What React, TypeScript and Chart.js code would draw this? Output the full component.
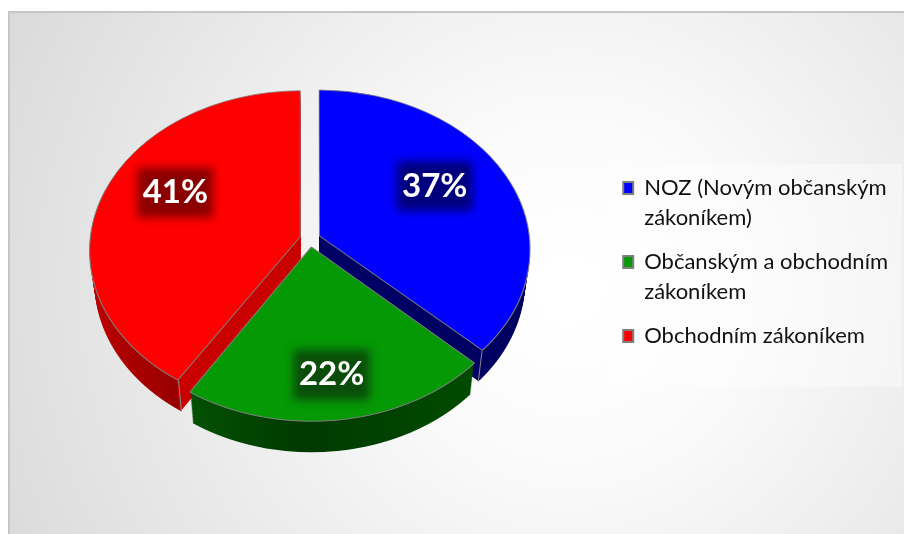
import React, { useEffect, useRef } from "react";
import { Chart, registerables } from "chart.js";

Chart.register(...registerables);

const categories = [
  ["NOZ (Novým občanským", "zákoníkem)"],
  ["Občanským a obchodním", "zákoníkem"],
  ["Obchodním zákoníkem"],
];
const shares = [37, 22, 41];
const topColors = ["#0000ff", "#059905", "#ff0000"];
const glowColors = ["#00007c", "#0a4d0a", "#8a0000"];

const W = 904;
const H = 534;
const CX = 310;
const CY = 239;
const AX = 210; // horizontal half-size of the projected disc
const AY = 158.5; // vertical half-size before the perspective term
const P = 0.083; // perspective strength
const DEPTH = 31;
const INSET = 0.022;
const labelNudge = [
  [-7, -10],
  [2, 19],
  [4, -16],
];

function ghostOf(arc: any, patch: any) {
  const g = Object.create(arc);
  g.options = { ...arc.options, ...patch };
  return g;
}

function offsetOf(arc: any) {
  return (arc.options.offset || 0) / 4;
}

// Chart.js widens an exploded arc by offset * (1 - sin(circumference)).
function radiusOf(arc: any) {
  const fix = 1 - Math.sin(Math.min(Math.PI, arc.circumference || 0));
  return arc.outerRadius + offsetOf(arc) * fix;
}

// Draws the library's arc through a perspective projection, one thin row at a time.
function drawFace(ctx: any, arc: any, k: number, patch: any, rowH: number) {
  const R = radiusOf(arc);
  const inset = 1 - (INSET * k) / DEPTH;
  const g = ghostOf(arc, patch);
  const origin = CY + k;
  for (let row = 80 + k; row < 440 + k; row += rowH) {
    const yo = row + rowH / 2 - origin;
    const u = yo / (AY + P * yo);
    const den = 1 - P * u;
    ctx.save();
    ctx.beginPath();
    ctx.rect(0, row, W, rowH);
    ctx.clip();
    ctx.translate(CX, row + rowH / 2);
    ctx.scale((AX * inset) / (R * den), AY / (R * den * den));
    ctx.translate(-arc.x, -(arc.y + u * R));
    g.draw(ctx);
    ctx.restore();
  }
}

function project(arc: any, theta: number, frac: number, k: number) {
  const R = radiusOf(arc);
  const off = offsetOf(arc);
  const mid = (arc.startAngle + arc.endAngle) / 2;
  const vx = (Math.cos(mid) * off + Math.cos(theta) * R * frac) / R;
  const u = (Math.sin(mid) * off + Math.sin(theta) * R * frac) / R;
  const den = 1 - P * u;
  const inset = 1 - (INSET * k) / DEPTH;
  return { x: CX + (AX * inset * vx) / den, y: CY + k + (AY * u) / den };
}

function wallFill(ctx: any, arc: any, index: number) {
  const R = radiusOf(arc);
  const fx = (px: number) => arc.x + ((px - CX) * R) / AX;
  const stops: any[] =
    index === 2
      ? [
          [95, "#c20000"],
          [140, "#ac0000"],
          [195, "#980000"],
          [196, "#c80000"],
          [330, "#c80000"],
        ]
      : index === 1
        ? [
            [190, "#045204"],
            [300, "#003a00"],
            [475, "#004c00"],
          ]
        : [
            [300, "#000066"],
            [530, "#000060"],
          ];
  const a = stops[0][0];
  const b = stops[stops.length - 1][0];
  const g = ctx.createLinearGradient(fx(a), 0, fx(b), 0);
  stops.forEach((s) => g.addColorStop((s[0] - a) / (b - a), s[1]));
  return g;
}

const panelPlugin = {
  id: "panel",
  beforeDraw(chart: any) {
    const ctx = chart.ctx;
    ctx.save();
    ctx.fillStyle = "#ffffff";
    ctx.fillRect(0, 0, W, H);
    const g = ctx.createRadialGradient(570, 290, 30, 570, 290, 640);
    g.addColorStop(0, "#ffffff");
    g.addColorStop(0.25, "#fafafa");
    g.addColorStop(1, "#d9d9d9");
    ctx.fillStyle = g;
    ctx.fillRect(9, 12, W, H);
    ctx.strokeStyle = "#c6c6c6";
    ctx.lineWidth = 2;
    ctx.strokeRect(9, 12, W + 20, H + 20);
    ctx.fillStyle = "rgba(255,255,255,0.4)";
    ctx.fillRect(611, 164, 291, 223);
    ctx.restore();
  },
};

const pie3dPlugin = {
  id: "pie3d",
  beforeDatasetsDraw(chart: any) {
    const ctx = chart.ctx;
    const arcs = chart.getDatasetMeta(0).data;
    [2, 0, 1].forEach((i) => {
      const fill = wallFill(ctx, arcs[i], i);
      for (let k = DEPTH; k >= 1; k -= 2) {
        drawFace(ctx, arcs[i], k, { backgroundColor: fill, borderWidth: 0 }, 2);
      }
    });
    [
      [0, arcs[0].endAngle],
      [2, arcs[2].startAngle],
    ].forEach(([i, theta]) => {
      const a = project(arcs[i], theta, 1, 0);
      const b = project(arcs[i], theta, 1, DEPTH);
      ctx.save();
      ctx.strokeStyle = "#8a8a8a";
      ctx.lineWidth = 1;
      ctx.beginPath();
      ctx.moveTo(a.x, a.y);
      ctx.lineTo(b.x, b.y);
      ctx.stroke();
      ctx.restore();
    });
    arcs.forEach((arc: any) => drawFace(ctx, arc, 0, {}, 1));
    arcs.forEach((arc: any, i: number) => {
      const mid = (arc.startAngle + arc.endAngle) / 2;
      const p = project(arc, mid, 0.65, 0);
      const x = p.x + labelNudge[i][0];
      const y = p.y + labelNudge[i][1];
      ctx.save();
      ctx.filter = "blur(5px)";
      ctx.fillStyle = glowColors[i];
      ctx.fillRect(x - 38, y - 25, 76, 50);
      ctx.filter = "none";
      ctx.fillStyle = "#ffffff";
      ctx.font = "bold 33px Lato";
      ctx.textAlign = "center";
      ctx.textBaseline = "middle";
      ctx.fillText(`${shares[i]}%`, x, y);
      ctx.restore();
    });
    return false;
  },
};

export default function App() {
  const ref = useRef<HTMLCanvasElement>(null);
  useEffect(() => {
    const chart = new Chart(ref.current as any, {
      type: "pie",
      data: {
        labels: categories as any,
        datasets: [
          {
            data: shares,
            backgroundColor: topColors,
            borderColor: "#808080",
            borderWidth: 1,
            offset: 40,
            radius: 200,
          } as any,
        ],
      },
      options: {
        responsive: false,
        animation: false,
        devicePixelRatio: 1,
        layout: { padding: { top: 10, bottom: 12, right: 6, left: 0 } },
        plugins: {
          tooltip: { enabled: false },
          legend: {
            position: "right",
            labels: {
              boxWidth: 10,
              boxHeight: 12,
              padding: 14,
              color: "#111111",
              font: { family: "Lato", size: 22, lineHeight: 1.364 },
              generateLabels(chart: any) {
                const base = (Chart as any).overrides.pie.plugins.legend.labels.generateLabels(chart);
                return base.map((item: any) => ({ ...item, strokeStyle: "#7f7f7f", lineWidth: 2 }));
              },
            },
          },
        },
      } as any,
      plugins: [panelPlugin, pie3dPlugin] as any,
    });
    return () => chart.destroy();
  }, []);
  return (
    <div style={{ position: "fixed", left: 0, top: 0, width: W, height: H, background: "#fff" }}>
      <canvas ref={ref} width={W} height={H} style={{ display: "block" }} />
    </div>
  );
}
